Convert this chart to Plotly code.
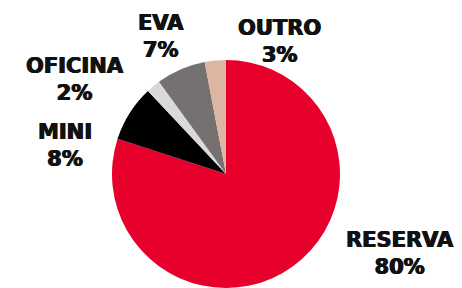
import plotly.graph_objects as go

labels = ["RESERVA", "MINI", "OFICINA", "EVA", "OUTRO"]
values = [80, 8, 2, 7, 3]
colors = ["#E6002B", "#000000", "#D9D9D9", "#767171", "#DCB5A3"]
# label block centers in page pixels
label_px = [(400, 253), (65, 145), (75, 79), (161, 37), (279, 41)]

W, H = 462, 288
OFF = 8  # default page body margin
cx, cy, r = 226 - OFF, 174 - OFF, 114
fig = go.Figure(go.Pie(
    labels=labels, values=values, sort=False, direction="clockwise", rotation=0,
    marker=dict(colors=colors, line=dict(width=0)),
    textinfo="none", hoverinfo="label+percent", showlegend=False,
    domain=dict(x=[(cx - r) / W, (cx + r) / W], y=[(H - cy - r) / H, (H - cy + r) / H]),
))

for lab, v, (px, py) in zip(labels, values, label_px):
    fig.add_annotation(
        x=(px - OFF) / W, y=1 - (py - OFF) / H, xref="paper", yref="paper",
        text=f"{lab}<br>{v}%", showarrow=False, xanchor="center", yanchor="middle",
        font=dict(family="DejaVu Sans", size=21, color="#111111", weight="bold",
                  shadow="0.6px 0 0 #111111, -0.6px 0 0 #111111"),
        align="center",
    )

fig.update_layout(width=W, height=H, margin=dict(l=0, r=0, t=0, b=0),
                  paper_bgcolor="white", plot_bgcolor="white")
fig.write_html("out.html")
